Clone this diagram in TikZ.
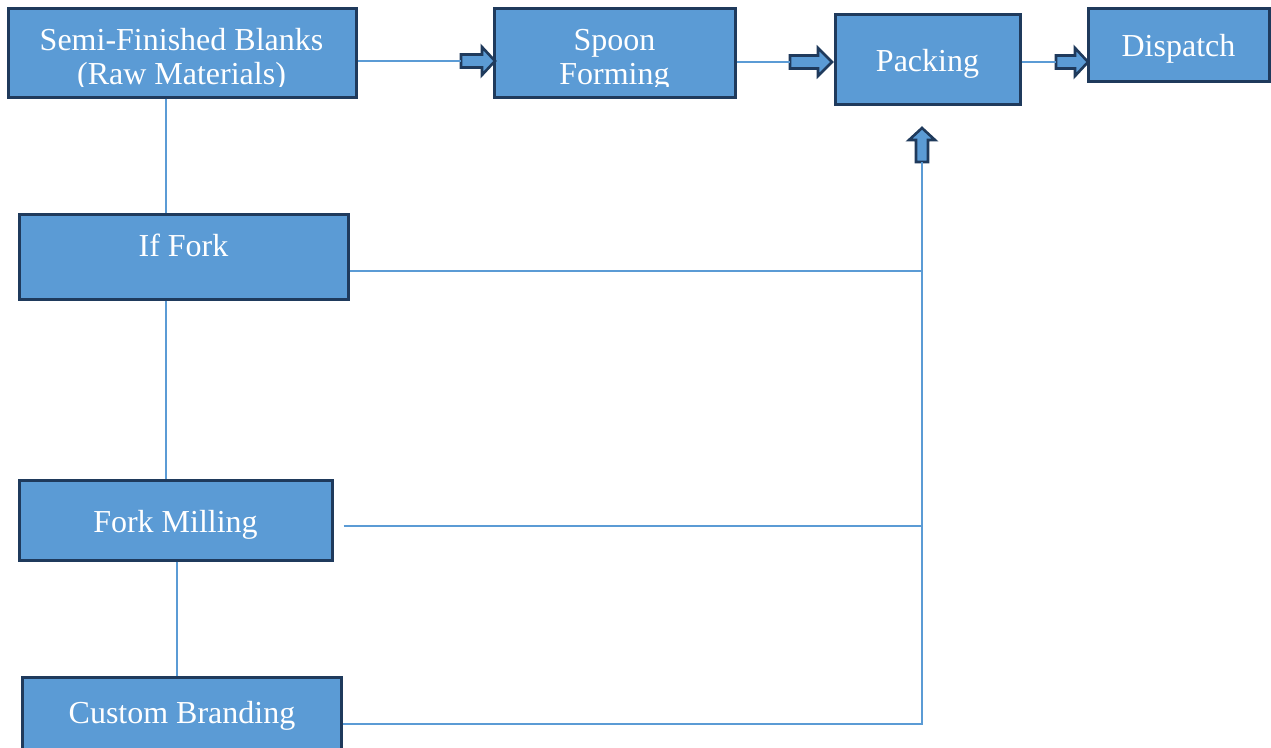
\documentclass[tikz,border=0pt]{standalone}
\usepackage{fontspec}
\setmainfont{Liberation Serif}
\definecolor{boxfill}{HTML}{5B9BD5}
\definecolor{boxline}{HTML}{1F3A5C}
\definecolor{linkcol}{HTML}{5B9BD5}
\begin{document}
\begin{tikzpicture}[x=1pt,y=-1pt,
  procbox/.style={draw=boxline,fill=boxfill,line width=3pt,rectangle,inner sep=0pt},
  lbl/.style={text=white,inner sep=0pt,anchor=base,font=\fontsize{32}{34}\selectfont},
  link/.style={draw=linkcol,line width=1.4pt},
  blockarrow/.style={draw=boxline,fill=boxfill,line width=2.6pt,line join=miter}]
\useasboundingbox (0,0) rectangle (1271,747);

% process boxes
\node[procbox,minimum width=348pt,minimum height=89pt] (sfb)     at (182,52.5) {};
\node[procbox,minimum width=241pt,minimum height=89pt] (spoon)   at (614.5,52.5) {};
\node[procbox,minimum width=185pt,minimum height=90pt] (pack)    at (927.5,59) {};
\node[procbox,minimum width=181pt,minimum height=73pt] (disp)    at (1178.5,44.5) {};
\node[procbox,minimum width=329pt,minimum height=85pt] (iffork)  at (183.5,256.5) {};
\node[procbox,minimum width=313pt,minimum height=80pt] (milling) at (175.5,520) {};
\node[procbox,minimum width=319pt,minimum height=80pt] (brand)   at (182,717) {};

% labels (two-line labels are cut off just below the second baseline)
\begin{scope}
  \clip (8,8) rectangle (356,86);
  \node[lbl] (t-sfb1) at (181.5,50) {Semi-Finished Blanks};
  \node[lbl] (t-sfb2) at (181.5,84) {(Raw Materials)};
\end{scope}
\begin{scope}
  \clip (494,8) rectangle (735,86);
  \node[lbl] (t-sp1) at (614.5,50) {Spoon};
  \node[lbl] (t-sp2) at (614.5,84) {Forming};
\end{scope}
\node[lbl] (t-pack) at (927.5,71) {Packing};
\node[lbl] (t-disp) at (1178.5,56) {Dispatch};
\node[lbl] (t-if)   at (183.5,256) {If Fork};
\node[lbl] (t-mill) at (175.5,532) {Fork Milling};
\node[lbl] (t-brand) at (182,723) {Custom Branding};

% block arrows (tail coordinates)
\coordinate (a1) at (461,61);
\coordinate (a2) at (790,62);
\coordinate (a3) at (1056,62);
\coordinate (a4) at (922,162);
\draw[blockarrow] (a1) ++(0,-6.5) -- ++(21,0) -- ++(0,-7.5) -- ++(13,14) -- ++(-13,14) -- ++(0,-7.5) -- ++(-21,0) -- cycle;
\draw[blockarrow] (a2) ++(0,-6.5) -- ++(28,0) -- ++(0,-7.5) -- ++(14,14) -- ++(-14,14) -- ++(0,-7.5) -- ++(-28,0) -- cycle;
\draw[blockarrow] (a3) ++(0,-6.5) -- ++(19,0) -- ++(0,-7.5) -- ++(13,14) -- ++(-13,14) -- ++(0,-7.5) -- ++(-19,0) -- cycle;
\draw[blockarrow] (a4) ++(-6,0) -- ++(0,-22) -- ++(-7,0) -- ++(13,-12) -- ++(13,12) -- ++(-7,0) -- ++(0,22) -- cycle;

% connectors along the top row
\draw[link] (sfb.east |- a1) -- (a1);
\draw[link] (spoon.east |- a2) -- (a2);
\draw[link] (pack.east |- a3) -- (a3);

% left spine
\coordinate (xa) at (166,0);
\coordinate (xb) at (177,0);
\draw[link] (xa |- sfb.south) -- (xa |- iffork.north);
\draw[link] (xa |- iffork.south) -- (xa |- milling.north);
\draw[link] (xb |- milling.south) -- (xb |- brand.north);

% feeds into packing
\coordinate (bus) at (922,0);
\coordinate (ybrand) at (0,724);
\coordinate (ymill) at (0,526);
\coordinate (yif) at (0,271);
\draw[link] (iffork.east |- yif) -- (bus |- yif);
\draw[link] ([xshift=10pt]milling.east |- ymill) -- (bus |- ymill);
\draw[link] (brand.east |- ybrand) -- (bus |- ybrand) -- (a4);
\end{tikzpicture}
\end{document}
